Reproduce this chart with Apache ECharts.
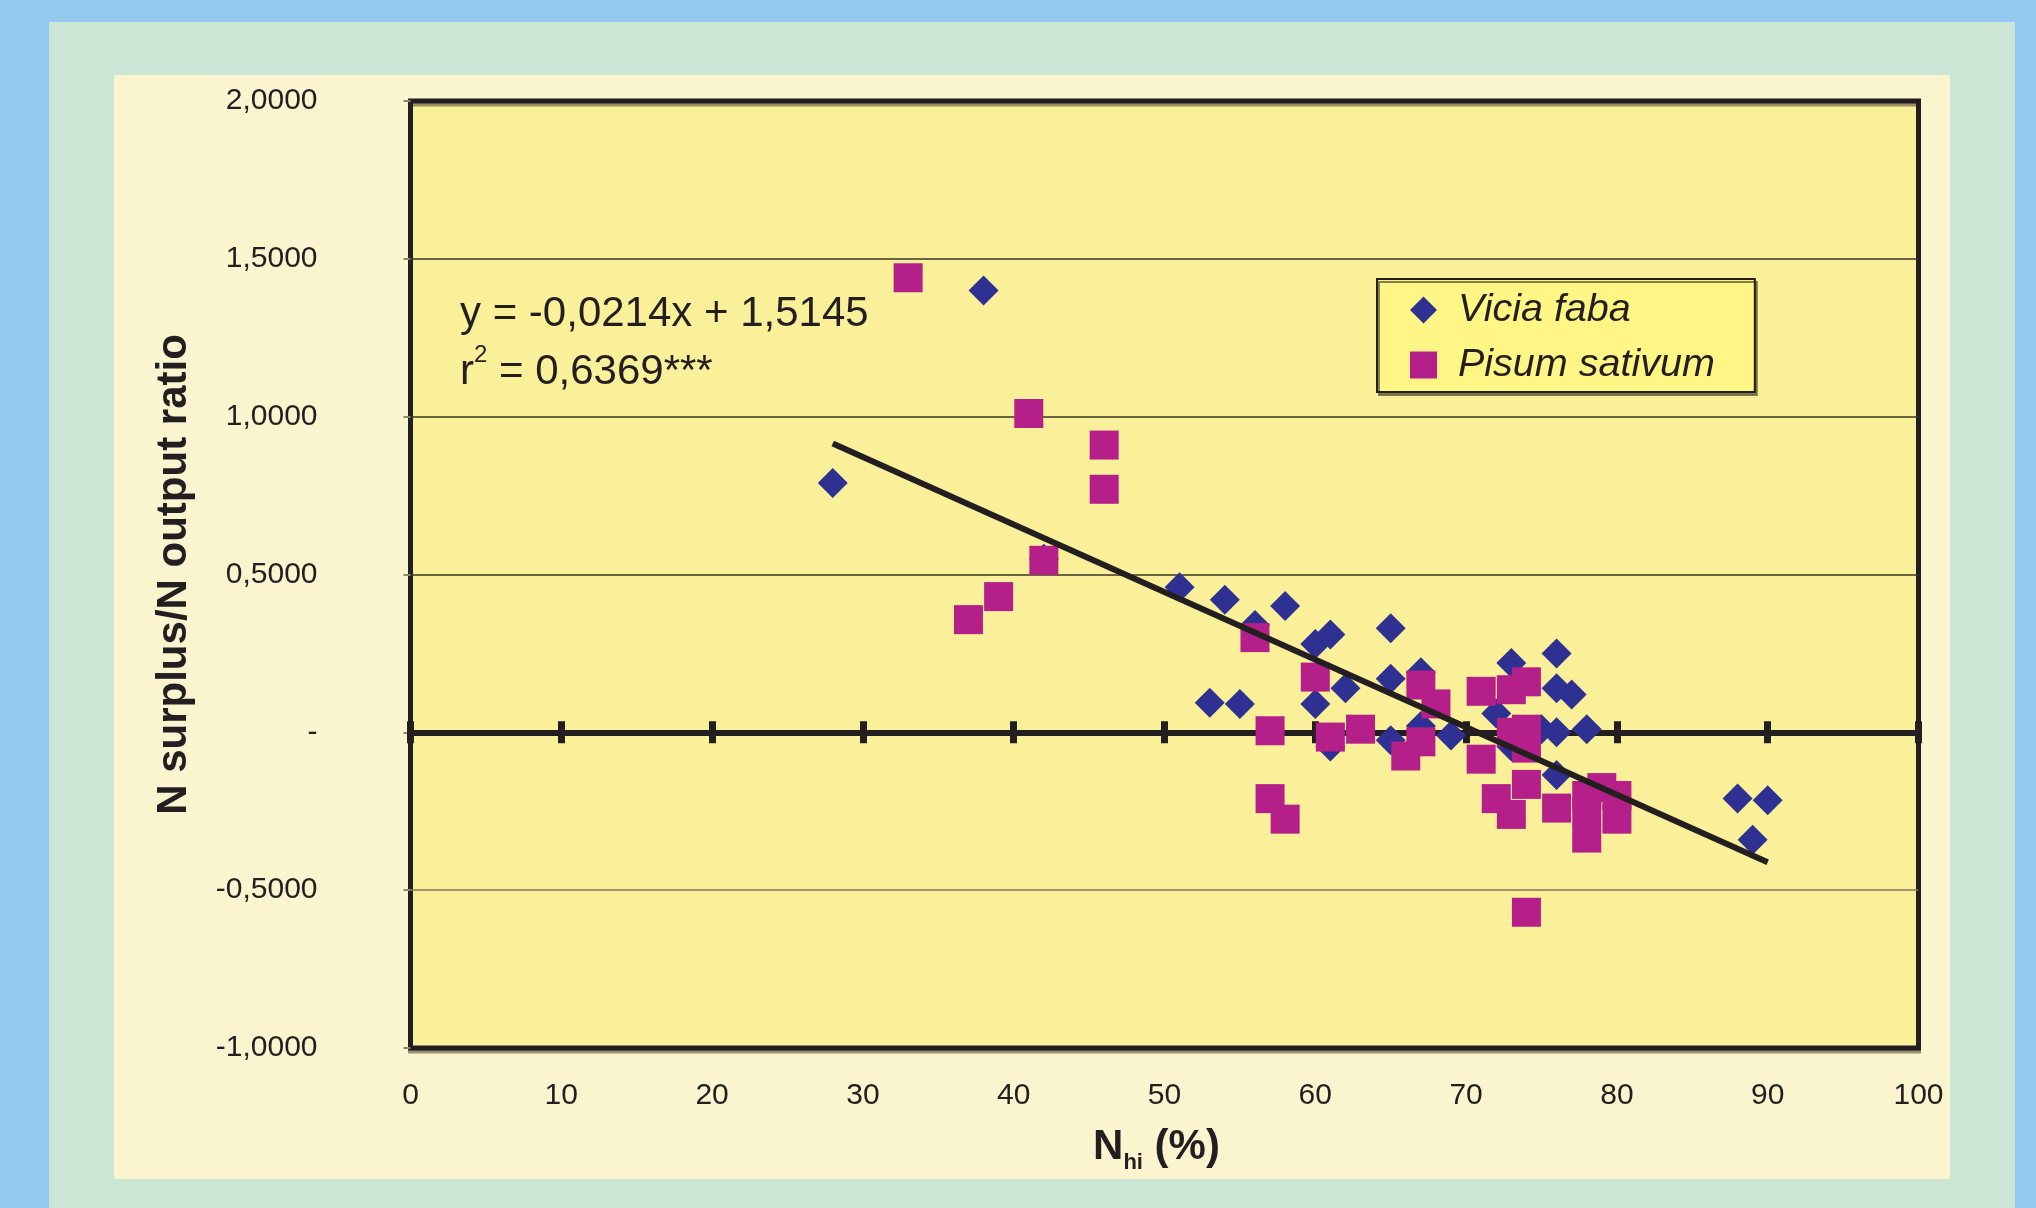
<!DOCTYPE html>
<html>
<head>
<meta charset="utf-8">
<script src="https://cdn.jsdelivr.net/npm/echarts@6/dist/echarts.min.js"></script>
<style>
html,body{margin:0;padding:0;background:#93C9EE;}
#chart{width:2036px;height:1208px;}
</style>
</head>
<body>
<div id="chart"></div>
<script>
// ---- data ----
const seriesNames = ['Vicia faba', 'Pisum sativum'];

const viciaFaba = [
  [28, 0.79], [38, 1.40], [42, 0.55], [51, 0.46], [54, 0.42], [56, 0.34],
  [58, 0.40], [60, 0.28], [61, 0.31], [53, 0.094], [55, 0.09], [60, 0.09],
  [62, 0.14], [61, -0.045], [65, 0.33], [65, 0.17], [67, 0.19], [65, -0.025],
  [67, 0.02], [69, -0.01], [73, 0.22], [76, 0.25], [76, 0.14], [77, 0.12],
  [72, 0.06], [73, -0.045], [75, 0.01], [76, 0.0], [78, 0.01], [76, -0.135],
  [88, -0.21], [90, -0.215], [89, -0.34]
];

const pisumSativum = [
  [33, 1.44], [41, 1.01], [46, 0.91], [46, 0.77], [42, 0.545], [39, 0.43],
  [37, 0.357], [56, 0.30], [60, 0.175], [57, 0.005], [61, -0.015], [63, 0.01],
  [57, -0.21], [58, -0.275], [67, 0.15], [68, 0.09], [67, -0.03], [66, -0.075],
  [71, 0.13], [71, -0.085], [73, 0.135], [74, 0.16], [73, 0.0], [74, 0.01],
  [74, -0.05], [72, -0.21], [73, -0.26], [74, -0.165], [76, -0.24], [78, -0.20],
  [78, -0.25], [78, -0.335], [79, -0.175], [80, -0.20], [80, -0.275], [74, -0.57]
];

const trendLine = [[28, 0.9153], [90, -0.4115]];

const xTickLabels = ['0', '10', '20', '30', '40', '50', '60', '70', '80', '90', '100'];
const yTickLabels = ['-1,0000', '-0,5000', '-', '0,5000', '1,0000', '1,5000', '2,0000'];
const equationText = 'y = -0,0214x + 1,5145';
const r2Text = ' = 0,6369***';

// ---- chart ----
const F = '"Liberation Sans", Arial, Helvetica, sans-serif';
const INK = '#231F20';
const X_MIN = 0, X_MAX = 100, X_INT = 10;
const Y_MIN = -1, Y_MAX = 2, Y_INT = 0.5;

const chart = echarts.init(document.getElementById('chart'), null, {renderer: 'canvas'});

const zeroAxisBase = {
  type: 'value', min: X_MIN, max: X_MAX, interval: X_INT, position: 'bottom',
  axisLabel: {show: false}, splitLine: {show: false}
};

const option = {
  backgroundColor: '#93C9EE',
  animation: false,
  textStyle: {fontFamily: F},
  graphic: [
    {type: 'rect', z: -10, silent: true, shape: {x: 49, y: 22, width: 1966, height: 1200}, style: {fill: '#CBE6D5'}},
    {type: 'rect', z: -9, silent: true, shape: {x: 114, y: 75, width: 1836, height: 1104}, style: {fill: '#FAF4CF'}}
  ],
  title: {
    left: 460, top: 285, padding: 0,
    text: '{a|' + equationText + '}\n{a|r}{sup|2}{a|' + r2Text + '}',
    textStyle: {
      fontWeight: 'normal', fontFamily: F, color: INK,
      rich: {
        a: {fontSize: 42, lineHeight: 58, color: INK, fontFamily: F, fontWeight: 'normal'},
        sup: {fontSize: 24, lineHeight: 30, verticalAlign: 'top', color: INK, fontFamily: F, fontWeight: 'normal'}
      }
    }
  },
  legend: {
    left: 1377, top: 279, orient: 'vertical',
    padding: [11, 40, 7, 33], itemGap: 15, itemWidth: 27, itemHeight: 27,
    backgroundColor: '#FFF685', borderColor: INK, borderWidth: 2,
    shadowColor: 'rgba(110,104,60,0.85)', shadowOffsetX: 2, shadowOffsetY: 3, shadowBlur: 0,
    selectedMode: false,
    data: [{name: seriesNames[0], icon: 'diamond'}, {name: seriesNames[1], icon: 'rect'}],
    textStyle: {fontSize: 39.5, fontStyle: 'italic', color: INK, fontFamily: F, lineHeight: 40, padding: [0, 0, 0, 16]}
  },
  grid: {
    left: 410.5, right: 117.5, top: 101, bottom: 160,
    show: true, backgroundColor: '#FBF09A', borderColor: INK, borderWidth: 5,
    shadowColor: 'rgba(110,104,70,0.7)', shadowOffsetY: 3, shadowBlur: 0,
    containLabel: false, outerBoundsMode: 'none'
  },
  xAxis: [
    {
      type: 'value', min: X_MIN, max: X_MAX, interval: X_INT, position: 'bottom',
      axisLine: {show: false, onZero: false}, axisTick: {show: false}, splitLine: {show: false},
      axisLabel: {margin: 33, fontSize: 30, color: INK, fontFamily: F,
        formatter: v => xTickLabels[Math.round((v - X_MIN) / X_INT)]},
      name: '{n|N}{s|hi}{n| (%)}', nameLocation: 'middle', nameGap: 72,
      nameTextStyle: {
        padding: [0, 16, 0, 0],
        rich: {
          n: {fontSize: 42, fontWeight: 'bold', lineHeight: 54, color: INK, fontFamily: F},
          s: {fontSize: 22, fontWeight: 'bold', lineHeight: 22, verticalAlign: 'bottom', color: INK, fontFamily: F}
        }
      }
    },
    Object.assign({}, zeroAxisBase, {
      axisLine: {show: true, onZero: true, onZeroAxisIndex: 0, lineStyle: {color: INK, width: 6}},
      axisTick: {show: true, inside: true, length: 11, lineStyle: {color: INK, width: 7}}
    }),
    Object.assign({}, zeroAxisBase, {
      axisLine: {show: true, onZero: true, onZeroAxisIndex: 1, lineStyle: {color: INK, width: 6}},
      axisTick: {show: true, inside: false, length: 11, lineStyle: {color: INK, width: 7}}
    })
  ],
  yAxis: [
    {
      type: 'value', min: Y_MIN, max: Y_MAX, interval: Y_INT,
      axisLine: {show: false, onZero: false},
      axisTick: {show: true, length: 7, lineStyle: {color: '#8C8866', width: 2}},
      axisLabel: {margin: 93, fontSize: 30, color: INK, fontFamily: F,
        formatter: v => yTickLabels[Math.round((v - Y_MIN) / Y_INT)]},
      splitLine: {show: true, lineStyle: {width: 1.5,
        color: [INK, '#7D7A58', INK, '#3A3728', '#3A3728', '#3A3728', INK]}},
      name: 'N surplus/N output ratio', nameLocation: 'middle', nameGap: 215,
      nameTextStyle: {fontSize: 42, fontWeight: 'bold', color: INK, fontFamily: F}
    },
    {type: 'value', min: Y_MIN, max: Y_MAX, interval: Y_INT, show: false}
  ],
  series: [
    {
      name: seriesNames[0], type: 'scatter', symbol: 'diamond', symbolSize: 30,
      data: viciaFaba, itemStyle: {color: '#2E3192', opacity: 1},
      emphasis: {disabled: true}, z: 2
    },
    {
      name: seriesNames[1], type: 'scatter', symbol: 'rect', symbolSize: 29,
      data: pisumSativum, itemStyle: {color: '#B51F8A', opacity: 1},
      emphasis: {disabled: true}, z: 2
    },
    {
      name: 'trend', type: 'line', data: trendLine, symbol: 'none', silent: true,
      lineStyle: {color: INK, width: 6}, z: 3
    }
  ]
};

chart.setOption(option);
</script>
</body>
</html>
